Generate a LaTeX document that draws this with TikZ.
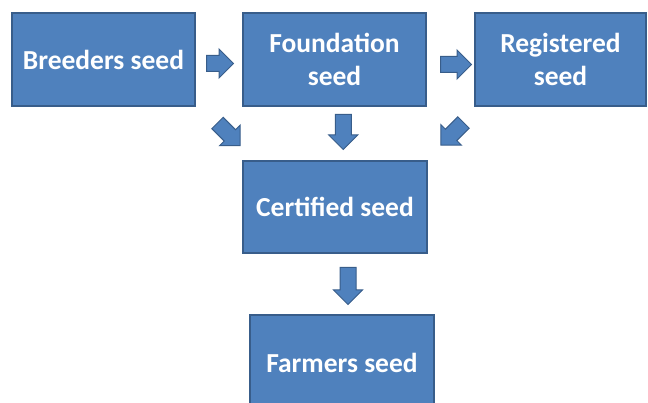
\documentclass[tikz,border=0pt]{standalone}
\usepackage{fontspec}
\setmainfont{Carlito}
\usepackage{tikz}
\usetikzlibrary{calc,shapes.arrows}

\definecolor{boxblue}{HTML}{4F81BD}
\definecolor{boxedge}{HTML}{385D8A}

\begin{document}
\begin{tikzpicture}[x=1pt,y=1pt,
  seedbox/.style={draw=boxedge, fill=boxblue, line width=1.2pt, text=white,
    font=\bfseries\fontsize{27.5}{32.5}\selectfont, align=center, inner sep=0pt},
  blockarrow/.style={single arrow, draw=boxedge, fill=boxblue, line width=1pt,
    minimum height=#1, inner xsep=0pt, inner ysep=7.5pt, single arrow head extend=6.5pt},
  blockarrow/.default=27pt
]
\clip (0,0) rectangle (648,402);

% the seed classes
\node[seedbox, minimum width=183pt, minimum height=93pt] (breeders) at (103.5,342.5) {Breeders seed};
\node[seedbox, minimum width=183pt, minimum height=93pt] (foundation) at (334.5,342.5) {Foundation\\seed};
\node[seedbox, minimum width=171pt, minimum height=93pt] (registered) at (560.5,342.5) {Registered\\seed};
\node[seedbox, minimum width=184pt, minimum height=92pt] (certified) at (335,195) {Certified seed};
\node[seedbox, minimum width=184pt, minimum height=96pt] (farmers) at (342,39) {Farmers seed};

% block arrows between them
\node[blockarrow] (bf) at ($(breeders.east)!.5!(foundation.west)+(-3,-4)$) {};
\node[blockarrow=31pt] (fr) at ($(foundation.east)!.5!(registered.west)+(1.5,-5)$) {};
\node[blockarrow=35pt, rotate=-90] (fc) at ($(foundation.south)!.5!(certified.north)+(8.5,5.5)$) {};
\node[blockarrow=32pt, rotate=-45] (bc) at ($(breeders.south east)!.5!(certified.north west)+(7,2)$) {};
\node[blockarrow=32pt, rotate=-135] (rc) at ($(registered.south west)!.5!(certified.north east)+(4,2.5)$) {};
\node[blockarrow=37pt, rotate=-90] (cf) at ($(certified.south)!.5!(farmers.north)+(9.5,2)$) {};
\end{tikzpicture}
\end{document}
